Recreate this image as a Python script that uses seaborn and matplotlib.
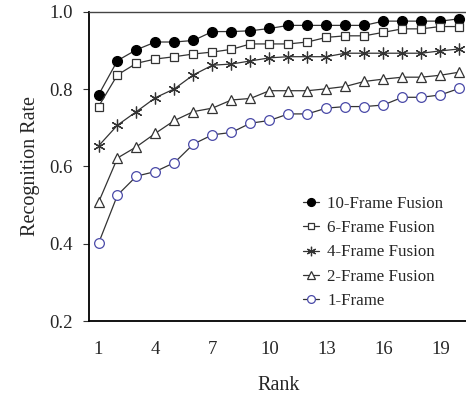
import numpy as np
import pandas as pd
import matplotlib
matplotlib.use("Agg")
import matplotlib.pyplot as plt
import seaborn as sns

ranks = list(range(1, 21))
fusion10 = [0.785, 0.874, 0.902, 0.922, 0.922, 0.926, 0.949, 0.949, 0.951, 0.957,
            0.965, 0.965, 0.965, 0.965, 0.965, 0.976, 0.976, 0.976, 0.976, 0.982]
fusion6 = [0.755, 0.837, 0.867, 0.878, 0.884, 0.891, 0.896, 0.903, 0.917, 0.917,
           0.917, 0.922, 0.934, 0.938, 0.938, 0.947, 0.956, 0.956, 0.962, 0.962]
fusion4 = [0.653, 0.707, 0.742, 0.778, 0.801, 0.837, 0.862, 0.865, 0.873, 0.881,
           0.884, 0.884, 0.884, 0.893, 0.893, 0.893, 0.893, 0.893, 0.899, 0.904]
fusion2 = [0.507, 0.622, 0.651, 0.686, 0.719, 0.742, 0.751, 0.772, 0.776, 0.796,
           0.796, 0.796, 0.801, 0.807, 0.820, 0.826, 0.831, 0.831, 0.836, 0.844]
frame1 = [0.401, 0.526, 0.575, 0.587, 0.610, 0.658, 0.682, 0.688, 0.712, 0.719,
          0.736, 0.736, 0.751, 0.755, 0.755, 0.759, 0.779, 0.779, 0.785, 0.802]
labels = ["10-Frame Fusion", "6-Frame Fusion", "4-Frame Fusion", "2-Frame Fusion", "1-Frame"]
xticks = [1, 4, 7, 10, 13, 16, 19]
yticks = [0.2, 0.4, 0.6, 0.8, 1.0]

sns.set_style("white")
plt.rcParams['font.family'] = 'Liberation Serif'
plt.rcParams['font.serif'] = ['Liberation Serif']

fig = plt.figure(figsize=(4.66, 3.95), dpi=100)
ax = fig.add_axes([0.191, 0.187, 0.815, 0.783])

series = [fusion10, fusion6, fusion4, fusion2, frame1]
styles = [
    dict(marker='o', mfc='black', mec='black', ms=7.0, mew=1.0),
    dict(marker='s', mfc='white', mec='#333333', ms=6.2, mew=0.9),
    dict(marker=(6, 2, 0), mfc='none', mec='#333333', ms=8.5, mew=0.9),
    dict(marker='^', mfc='white', mec='#333333', ms=7.5, mew=0.9),
    dict(marker='o', mfc='white', mec='#4a4aa8', ms=7.0, mew=0.9),
]
for vals, lab, st in zip(series, labels, styles):
    df = pd.DataFrame({"Rank": ranks, "Rate": vals})
    sns.lineplot(data=df, x="Rank", y="Rate", ax=ax, color='#333333', lw=0.9,
                 marker=st['marker'], markersize=st['ms'], markerfacecolor=st['mfc'],
                 markeredgecolor=st['mec'], markeredgewidth=st['mew'], label=lab)

ax.set_xlim(0.5, 20.5)
ax.set_ylim(0.2, 1.0)
ax.set_xticks(xticks)
ax.set_yticks(yticks)
ax.set_yticklabels([f"{v:.1f}" for v in yticks])
ax.tick_params(axis='y', which='both', left=True, length=4.5, width=0.8, labelsize=13.5, color='#333333', pad=7)
ax.tick_params(axis='x', bottom=False, labelsize=13.5, pad=11)
for s in ['left', 'bottom']:
    ax.spines[s].set_color('black')
    ax.spines[s].set_linewidth(1.3)
ax.spines['top'].set_color('#444444')
ax.spines['top'].set_linewidth(1.0)
ax.spines['right'].set_visible(False)
ax.set_xlabel("Rank", fontsize=14.5, labelpad=13)
ax.set_ylabel("Recognition Rate", fontsize=14.5, labelpad=7)

leg = ax.legend(loc='upper left', bbox_to_anchor=(0.545, 0.428), frameon=False, fontsize=12.2,
                handlelength=0.95, handletextpad=0.5, labelspacing=0.5, borderaxespad=0,
                markerscale=0.8)

fig.savefig("out.png", dpi=100)
